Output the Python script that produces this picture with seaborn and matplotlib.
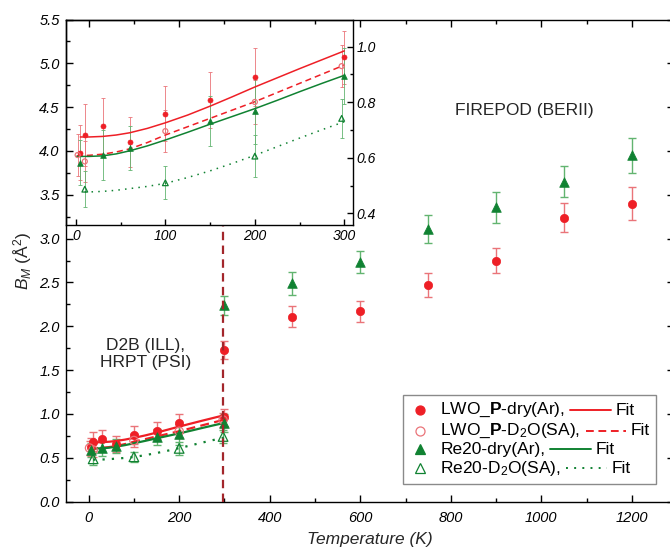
import matplotlib
matplotlib.use("Agg")
import matplotlib.pyplot as plt
import seaborn as sns
from matplotlib.lines import Line2D
from matplotlib.ticker import MultipleLocator
from matplotlib.offsetbox import AnchoredOffsetbox, HPacker, VPacker, TextArea, DrawingArea

# ---------------- data ----------------
# low-temperature data (D2B / HRPT)
T_lwo_dry = [5, 10, 30, 60, 100, 150, 200, 300]
B_lwo_dry = [0.619, 0.682, 0.715, 0.658, 0.759, 0.809, 0.891, 0.962]
E_lwo_dry = [0.10, 0.11, 0.10, 0.09, 0.10, 0.10, 0.105, 0.095]

T_lwo_d2o = [2, 10, 100, 200, 297]
B_lwo_d2o = [0.610, 0.587, 0.696, 0.801, 0.930]
E_lwo_d2o = [0.075, 0.075, 0.075, 0.08, 0.075]

T_re_dry = [5, 30, 60, 150, 200, 300]
B_re_dry = [0.583, 0.609, 0.635, 0.733, 0.768, 0.894]
E_re_dry = [0.08, 0.09, 0.08, 0.09, 0.12, 0.10]

T_re_d2o = [10, 100, 200, 297]
B_re_d2o = [0.487, 0.510, 0.606, 0.742]
E_re_d2o = [0.065, 0.06, 0.075, 0.07]

# fits
T_fit = [5, 15, 30, 45, 60, 80, 100, 125, 150, 175, 200, 225, 250, 275, 300]
F_lwo_dry = [0.675, 0.675, 0.677, 0.682, 0.690, 0.706, 0.726, 0.754, 0.786,
             0.820, 0.855, 0.888, 0.921, 0.953, 0.985]
T_fit_d = [1, 15, 30, 45, 60, 80, 100, 125, 150, 175, 200, 225, 250, 275, 300]
F_lwo_d2o = [0.607, 0.609, 0.613, 0.621, 0.632, 0.655, 0.682, 0.712, 0.742,
             0.772, 0.802, 0.835, 0.868, 0.901, 0.934]
F_re_dry = [0.605, 0.605, 0.607, 0.614, 0.625, 0.643, 0.664, 0.692, 0.721,
            0.749, 0.777, 0.807, 0.838, 0.868, 0.897]
T_fit_r = [10, 15, 30, 45, 60, 80, 100, 125, 150, 175, 200, 225, 250, 275, 300]
F_re_d2o = [0.477, 0.477, 0.479, 0.483, 0.489, 0.497, 0.508, 0.529, 0.553,
            0.580, 0.609, 0.640, 0.671, 0.701, 0.730]

# high-temperature data (FIREPOD)
T_fp = [300, 450, 600, 750, 900, 1050, 1200]
B_fp_lwo = [1.73, 2.11, 2.17, 2.47, 2.75, 3.24, 3.40]
E_fp_lwo = [0.106, 0.122, 0.122, 0.140, 0.148, 0.165, 0.183]
B_fp_re = [2.24, 2.49, 2.73, 3.11, 3.36, 3.65, 3.95]
E_fp_re = [0.108, 0.133, 0.127, 0.161, 0.177, 0.180, 0.200]

T_split = 297

x_ticks = [0, 200, 400, 600, 800, 1000, 1200]
y_ticks = [0.0, 0.5, 1.0, 1.5, 2.0, 2.5, 3.0, 3.5, 4.0, 4.5, 5.0, 5.5]
xi_ticks = [0, 100, 200, 300]
yi_ticks = [0.4, 0.6, 0.8, 1.0]

legend_labels = [r"LWO_$\mathbf{P}$-dry(Ar),", r"LWO_$\mathbf{P}$-D$_2$O(SA),",
                 r"Re20-dry(Ar),", r"Re20-D$_2$O(SA),"]

# ---------------- style ----------------
sns.set_theme(style="white")
plt.rcParams["font.family"] = ["Liberation Sans", "DejaVu Sans"]
plt.rcParams.update({
    "mathtext.fontset": "custom",
    "mathtext.rm": "Liberation Sans",
    "mathtext.it": "Liberation Sans:italic",
    "mathtext.bf": "Liberation Sans:bold",
    "axes.edgecolor": "black",
    "axes.linewidth": 1.0,
    "xtick.color": "black",
    "ytick.color": "black",
})

RED = "#ee1f26"
RED_L = "#ea7479"
GREEN = "#108232"
GREEN_L = "#62b470"
DARKRED = "#a3262b"

fig = plt.figure(figsize=(6.7, 5.49), dpi=100)
W, H = 670.0, 549.0
main_rect = [66 / W, (H - 501.5) / H, 607.5 / W, 482 / H]
ins_rect = [66 / W, (H - 225) / H, (353.3 - 66) / W, (225 - 19.5) / H]
ax = fig.add_axes(main_rect)
axi = fig.add_axes(ins_rect)
axi.set_facecolor("none")

series = [
    # T, B, E, marker, filled, color, light color
    (T_lwo_dry, B_lwo_dry, E_lwo_dry, "o", True, RED, RED_L),
    (T_lwo_d2o, B_lwo_d2o, E_lwo_d2o, "o", False, RED, RED_L),
    (T_re_dry, B_re_dry, E_re_dry, "^", True, GREEN, GREEN_L),
    (T_re_d2o, B_re_d2o, E_re_d2o, "^", False, GREEN, GREEN_L),
]
fits = [
    (T_fit, F_lwo_dry, RED, "-"),
    (T_fit_d, F_lwo_d2o, RED, "--"),
    (T_fit_d, F_re_dry, GREEN, "-"),
    (T_fit_r, F_re_d2o, GREEN, ":"),
]


def dash_style(ls, main):
    if ls == "--":
        return (0, (4.0, 2.4)) if main else (0, (4.0, 2.6))
    if ls == ":":
        return (0, (1.0, 3.2)) if main else (0, (1.0, 3.4))
    return "-"


def draw(a, main):
    ms_c = 36 if main else 13
    ms_t = 48 if main else 17
    elw = 1.0 if main else 0.6
    cap = 3 if main else 1.5
    flw = 1.6 if main else 1.1
    for T, B, E, mk, filled, col, lcol in series:
        a.errorbar(T, B, yerr=E, fmt="none", ecolor=lcol, elinewidth=elw,
                   capsize=cap, capthick=elw, zorder=2)
    for T, F, col, ls in fits:
        sns.lineplot(x=T, y=F, ax=a, color=col, linewidth=flw, sort=False,
                     estimator=None, linestyle=dash_style(ls, main), zorder=3)
    for T, B, E, mk, filled, col, lcol in series:
        s = ms_c if mk == "o" else ms_t
        if filled:
            sns.scatterplot(x=T, y=B, ax=a, marker=mk, s=s, color=col,
                            edgecolor=col, linewidth=0.5, zorder=4)
        else:
            sns.scatterplot(x=T, y=B, ax=a, marker=mk, s=s, facecolor="none",
                            edgecolor=lcol if mk == "o" else col,
                            linewidth=0.9, zorder=4)


# ---------------- main axes ----------------
draw(ax, True)
ax.errorbar(T_fp, B_fp_lwo, yerr=E_fp_lwo, fmt="none", ecolor=RED_L,
            elinewidth=1.0, capsize=3, capthick=1.0, zorder=2)
ax.errorbar(T_fp, B_fp_re, yerr=E_fp_re, fmt="none", ecolor=GREEN_L,
            elinewidth=1.0, capsize=3, capthick=1.0, zorder=2)
sns.scatterplot(x=T_fp, y=B_fp_lwo, ax=ax, marker="o", s=36, color=RED,
                edgecolor=RED, linewidth=0.5, zorder=4)
sns.scatterplot(x=T_fp, y=B_fp_re, ax=ax, marker="^", s=48, color=GREEN,
                edgecolor=GREEN, linewidth=0.5, zorder=4)

ymax_frac = (ins_rect[1] - main_rect[1]) / main_rect[3]
ax.axvline(T_split, ymin=0, ymax=ymax_frac, color=DARKRED, lw=1.6,
           linestyle=(0, (3.8, 2.4)), zorder=5)

ax.set_xlim(-50, 1292)
ax.set_ylim(0, 5.5)
ax.set_xticks(x_ticks)
ax.set_xticklabels([str(v) for v in x_ticks], fontstyle="italic", fontsize=10.5)
ax.set_yticks(y_ticks)
ax.set_yticklabels([f"{v:.1f}" for v in y_ticks], fontstyle="italic", fontsize=10.5)
ax.xaxis.set_minor_locator(MultipleLocator(100))
ax.yaxis.set_minor_locator(MultipleLocator(0.25))
ax.tick_params(which="both", direction="in", bottom=True, top=True,
               left=True, right=True, width=1.0, color="black")
ax.tick_params(which="major", length=5)
ax.tick_params(which="minor", length=3)
ax.tick_params(axis="x", pad=7)
ax.tick_params(axis="y", pad=4.5)
ax.set_xlabel("Temperature (K)", fontstyle="italic", fontsize=12.5, labelpad=5)
ax.set_ylabel(r"$B_M$ (Å$^2$)", fontsize=12.5, labelpad=4)
for sp in ax.spines.values():
    sp.set_visible(True)
    sp.set_color("black")
    sp.set_linewidth(1.0)

ax.text(0.7547, 0.8122, "FIREPOD (BERII)", transform=ax.transAxes,
        ha="center", va="center", fontsize=12.5)
ax.text(0.1315, 0.3066, "D2B (ILL),\nHRPT (PSI)", transform=ax.transAxes,
        ha="center", va="center", fontsize=12.5, linespacing=1.2,
        multialignment="center")

# ---------------- legend ----------------
rows = []
leg_styles = [("o", True, RED, RED, "-"), ("o", False, RED_L, RED, "--"),
              ("^", True, GREEN, GREEN, "-"), ("^", False, GREEN, GREEN, ":")]
for lab, (mk, filled, mcol, lcol, ls) in zip(legend_labels, leg_styles):
    da_m = DrawingArea(19, 10, 0, 0)
    da_m.add_artist(Line2D([8], [5], marker=mk, ms=6.5 if mk == "o" else 7,
                           mfc=mcol if filled else "none", mec=mcol,
                           mew=0.9, ls="none"))
    ta = TextArea(lab, textprops=dict(fontsize=12.5, color="black"))
    da_l = DrawingArea(29, 10, 0, 0)
    da_l.add_artist(Line2D([0, 29], [5, 5], color=lcol, lw=1.4,
                           linestyle=dash_style(ls, True)))
    tf = TextArea("Fit", textprops=dict(fontsize=12.5, color="black"))
    rows.append(HPacker(children=[da_m, ta, da_l, tf], align="center", pad=0, sep=3.6))
vp = VPacker(children=rows, align="left", pad=0, sep=1.5)
leg = AnchoredOffsetbox(loc="lower right", child=vp, pad=0.35, borderpad=0,
                        frameon=True, prop=dict(size=12.5),
                        bbox_to_anchor=(656 / W, (H - 484) / H),
                        bbox_transform=fig.transFigure)
leg.patch.set_edgecolor("#8a8a8a")
leg.patch.set_linewidth(1.0)
leg.patch.set_facecolor("white")
leg.set_zorder(10)
ax.add_artist(leg)

# ---------------- inset ----------------
draw(axi, False)
axi.set_xlim(-11, 310)
axi.set_ylim(0.358, 1.098)
axi.set_xticks(xi_ticks)
axi.set_xticklabels([str(v) for v in xi_ticks], fontstyle="italic", fontsize=10)
axi.set_yticks(yi_ticks)
axi.set_yticklabels([f"{v:.1f}" for v in yi_ticks], fontstyle="italic", fontsize=10)
axi.xaxis.set_minor_locator(MultipleLocator(50))
axi.yaxis.set_minor_locator(MultipleLocator(0.1))
axi.tick_params(which="both", direction="in", bottom=True, top=False,
                left=False, right=True, labelleft=False, labelright=True,
                labelbottom=True, width=1.0, color="black")
axi.tick_params(which="major", length=4.5)
axi.tick_params(which="minor", length=2.5)
axi.tick_params(axis="x", pad=3)
axi.tick_params(axis="y", pad=2.5)
axi.set_xlabel("")
axi.set_ylabel("")
for sp in axi.spines.values():
    sp.set_visible(True)
    sp.set_color("black")
    sp.set_linewidth(1.0)

fig.savefig("out.png", dpi=100)
